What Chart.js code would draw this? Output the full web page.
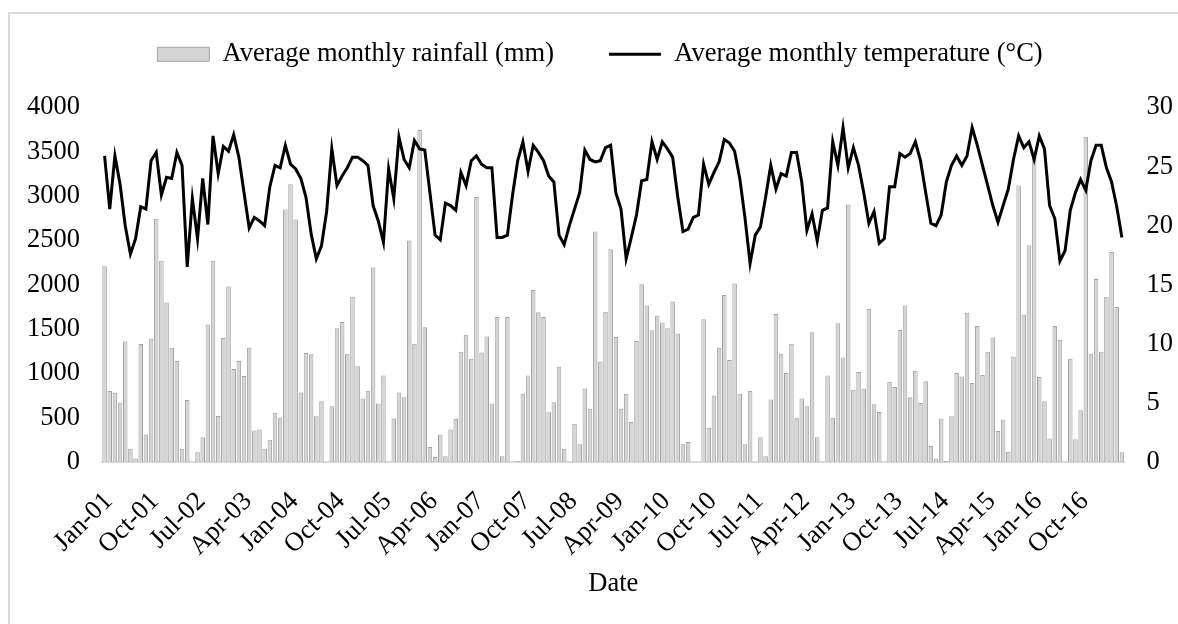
<!DOCTYPE html>
<html><head><meta charset="utf-8">
<script src="https://cdn.jsdelivr.net/npm/chart.js@4.4.1/dist/chart.umd.min.js"></script>
<style>
html,body{margin:0;padding:0;background:#fff;overflow:hidden}
#wrap{position:relative;width:1178px;height:624px;overflow:hidden}
#frame{position:absolute;left:8px;top:12px;width:1200px;height:700px;border-left:2px solid #d9d9d9;border-top:2px solid #d9d9d9;pointer-events:none}
canvas{position:absolute;left:0;top:0}
</style></head><body>
<div id="wrap"><div id="frame"></div><canvas id="c" width="1178" height="624"></canvas></div>
<script>
const monthNames = ['Jan','Feb','Mar','Apr','May','Jun','Jul','Aug','Sep','Oct','Nov','Dec'];
const firstYear = 2001;
const monthCount = 198;
const categories = [];
for (let i = 0; i < monthCount; i++) {
  const yy = (firstYear + Math.floor(i / 12)) % 100;
  categories.push(monthNames[i % 12] + '-' + String(yy).padStart(2, '0'));
}
const tickEvery = 9;

const rainfall = [
  2210, 800, 780, 670, 1360, 150, 40, 1330, 310, 1390, 2745, 2270, 1800, 1290, 1140, 150, 700,
  0,
  110, 280, 1550, 2270, 520, 1400, 1980, 1050, 1140, 970, 1290, 355, 365, 150, 250, 555, 500, 2850, 3135, 2735, 785, 1230, 1215, 515, 685,
  0,
  630, 1510, 1580, 1220, 1865, 1080, 715, 805, 2195, 660, 975,
  0,
  490, 785, 730, 2500, 1335, 3745, 1520, 170, 55, 310, 65, 365, 485, 1245, 1435, 1165, 2990, 1235, 1415, 660, 1635, 65, 1635,
  0, 10,
  770, 975, 1940, 1690, 1635, 560, 675, 1075, 150,
  0,
  430, 200, 830, 600, 2600, 1135, 1695, 2400, 1410, 600, 770, 450, 1365, 2005, 1765, 1485, 1650, 1575, 1510, 1810, 1450, 200, 225,
  0, 0,
  1610, 385, 750, 1290, 1885, 1150, 2015, 770, 200, 800,
  0,
  280, 65, 705, 1670, 1220, 1005, 1335, 500, 715, 630, 1465, 280,
  0,
  975, 500, 1565, 1180, 2905, 815, 1015, 830, 1725, 650, 565,
  0,
  905, 845, 1490, 1765, 730, 1030, 665, 910, 180, 35, 490, 10, 515, 1005, 965, 1685, 890, 1535, 980, 1245, 1405, 350, 480, 115, 1190, 3120, 1665, 2445, 3430, 960, 685, 265, 1535, 1380,
  0,
  1165, 255, 585, 3670, 1220, 2065, 1245, 1865, 2370, 1750, 110
];

const temperature = [
  25.9, 21.4, 25.9, 23.5, 20.0, 17.6, 18.9, 21.6, 21.4, 25.5, 26.2, 22.6, 24.1, 24.0, 26.2, 25.1, 16.5, 22.3, 18.9, 24.0,
  20.1, 27.6, 24.4, 26.7, 26.3, 27.7, 25.8, 22.8, 19.8, 20.7, 20.4, 20.0, 23.3, 25.1, 24.9, 26.8, 25.2, 24.8, 24.0, 22.4,
  19.3, 17.2, 18.3, 21.2, 26.5, 23.4, 24.2, 24.9, 25.8, 25.8, 25.5, 25.1, 21.7, 20.4, 18.6, 24.8, 22.3, 27.5,
  25.6, 24.9, 27.2, 26.5, 26.4, 22.8, 19.2, 18.8, 21.9, 21.7, 21.3, 24.5, 23.4, 25.5, 25.9, 25.2, 24.9, 24.9, 19.0, 19.0,
  19.2, 22.6, 25.5, 27.1, 24.6, 26.8, 26.2, 25.5, 24.2, 23.7, 19.2, 18.4, 20.0, 21.4, 22.8, 26.4, 25.6, 25.4, 25.5, 26.6,
  26.8, 22.8, 21.4, 17.2, 19.0, 20.9, 23.8, 23.9, 27.1, 25.6, 27.1, 26.5, 25.8, 22.4, 19.5, 19.7, 20.7, 20.9, 25.2, 23.5,
  24.5, 25.4, 27.3, 27.0, 26.3, 24.0, 20.7, 16.8, 19.2, 19.9, 22.4, 25.1,
  23.1, 24.4, 24.2, 26.2, 26.2, 23.7, 19.6, 21.0, 18.7, 21.3, 21.5, 27.1, 25.1, 28.3, 24.9, 26.6, 25.1, 22.8, 20.2, 21.2,
  18.5, 18.9, 23.3, 23.3, 26.1, 25.8, 26.1, 27.1, 25.5, 22.8, 20.2, 20.0, 20.9, 23.7, 25.1, 25.9, 25.1, 25.9, 28.3, 26.8,
  25.1, 23.4, 21.7, 20.3, 21.7, 23.1, 25.6, 27.6, 26.6, 27.1, 25.6, 27.6, 26.5, 21.7, 20.6, 17.0, 17.9, 21.3, 22.8, 23.9,
  23.0, 25.5, 26.8, 26.8, 24.9, 23.7, 21.6, 19.0
];

const rainLabel = 'Average monthly rainfall (mm)';
const tempLabel = 'Average monthly temperature (°C)';
const axisTitle = 'Date';

const FONT = 'Liberation Serif';
const FS = 26.5;
Chart.defaults.font.family = FONT;
Chart.defaults.color = '#000';

// extra space between the legend row and the plot area
const legendGap = {
  id: 'legendGap',
  beforeInit(chart) {
    const lg = chart.legend;
    if (!lg || lg._gapPatched) return;
    const origFit = lg.fit;
    lg.fit = function () { origFit.call(this); this.height += 30; };
    lg._gapPatched = true;
  }
};

new Chart(document.getElementById('c'), {
  data: {
    labels: categories,
    datasets: [
      {
        type: 'line', label: tempLabel, data: temperature, yAxisID: 'yTemp',
        borderColor: '#000', backgroundColor: '#000', borderWidth: 3,
        pointRadius: 0, tension: 0, order: 1
      },
      {
        type: 'bar', label: rainLabel, data: rainfall, yAxisID: 'yRain',
        backgroundColor: '#d4d4d4', borderColor: '#a3a3a3', borderWidth: 1,
        categoryPercentage: 1, barPercentage: 0.88, order: 2
      }
    ]
  },
  plugins: [legendGap],
  options: {
    responsive: false, animation: false, devicePixelRatio: 1,
    layout: { padding: { left: 5, right: -17, top: -14, bottom: 0 } },
    plugins: {
      tooltip: { enabled: false },
      legend: {
        position: 'top',
        reverse: true,
        labels: {
          font: { family: FONT, size: FS }, color: '#000',
          usePointStyle: true, pointStyleWidth: 52, boxHeight: 14, padding: 55,
          generateLabels(chart) {
            const items = Chart.defaults.plugins.legend.labels.generateLabels(chart);
            items.forEach(it => {
              if (it.text === rainLabel) {
                it.pointStyle = 'rect'; it.fillStyle = '#d4d4d4'; it.strokeStyle = '#a3a3a3'; it.lineWidth = 1;
              } else {
                it.pointStyle = 'line'; it.strokeStyle = '#000'; it.fillStyle = '#000'; it.lineWidth = 3;
              }
            });
            return items;
          }
        }
      }
    },
    scales: {
      x: {
        type: 'category', offset: true,
        grid: { display: true, drawOnChartArea: false, drawTicks: false },
        border: { display: true, color: '#d9d9d9', width: 2 },
        afterFit(scale) { scale.paddingLeft = 0; scale.paddingRight = 0; },
        ticks: {
          autoSkip: false, maxRotation: 45, minRotation: 45,
          font: { family: FONT, size: FS }, color: '#000',
          padding: 24, labelOffset: 4,
          callback: (v, i) => (i % tickEvery === 0 ? categories[i] : '')
        },
        title: { display: true, text: axisTitle, font: { family: FONT, size: FS }, color: '#000', padding: { top: -18, bottom: 24 } }
      },
      yRain: {
        position: 'left', min: 0, max: 4000,
        grid: { display: false, drawTicks: false }, border: { display: false },
        ticks: { stepSize: 500, padding: 22, font: { family: FONT, size: FS }, color: '#000', callback: v => String(v) }
      },
      yTemp: {
        position: 'right', min: 0, max: 30,
        grid: { display: false, drawTicks: false }, border: { display: false },
        ticks: { stepSize: 5, padding: 22, font: { family: FONT, size: FS }, color: '#000', callback: v => String(v) }
      }
    }
  }
});
</script>
</body></html>
